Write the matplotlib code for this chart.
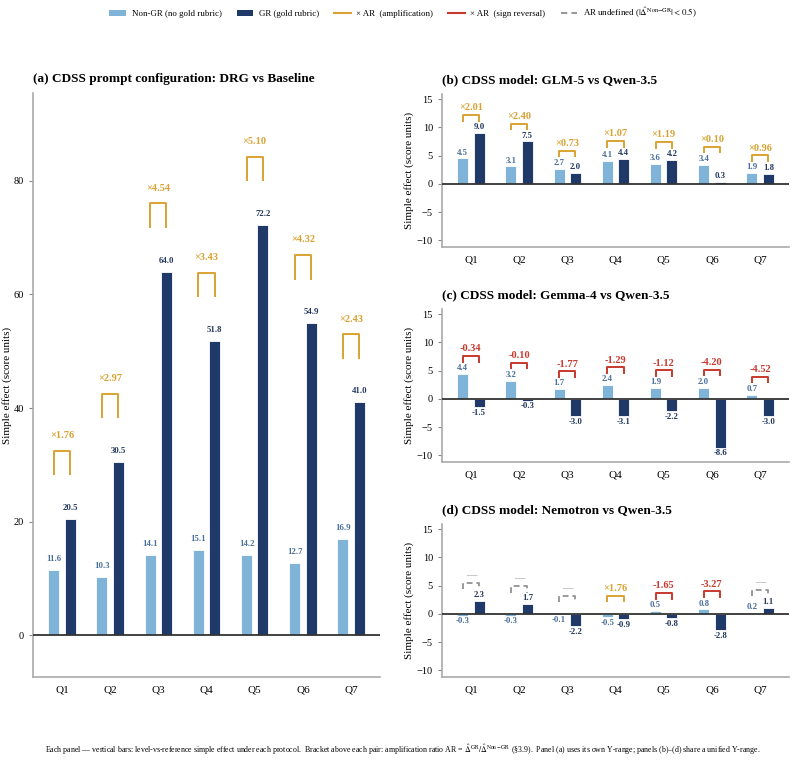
import matplotlib
matplotlib.use("Agg")
import numpy as np
import matplotlib.pyplot as plt
from matplotlib.patches import Patch
from matplotlib.lines import Line2D

plt.rcParams['font.family'] = ['Liberation Serif', 'DejaVu Serif']
plt.rcParams['mathtext.fontset'] = 'stix'

questions = ['Q1', 'Q2', 'Q3', 'Q4', 'Q5', 'Q6', 'Q7']

# panel (a): DRG vs Baseline
a_nongr = [11.6, 10.3, 14.1, 15.1, 14.2, 12.7, 16.9]
a_gr = [20.5, 30.5, 64.0, 51.8, 72.2, 54.9, 41.0]
a_ar = [1.76, 2.97, 4.54, 3.43, 5.10, 4.32, 2.43]

# panel (b): GLM-5 vs Qwen-3.5
b_nongr = [4.5, 3.1, 2.7, 4.1, 3.6, 3.4, 1.9]
b_gr = [9.0, 7.5, 2.0, 4.4, 4.2, 0.3, 1.8]
b_ar = [2.01, 2.40, 0.73, 1.07, 1.19, 0.10, 0.96]

# panel (c): Gemma-4 vs Qwen-3.5
c_nongr = [4.4, 3.2, 1.7, 2.4, 1.9, 2.0, 0.7]
c_gr = [-1.5, -0.3, -3.0, -3.1, -2.2, -8.6, -3.0]
c_ar = [-0.34, -0.10, -1.77, -1.29, -1.12, -4.20, -4.52]

# panel (d): Nemotron vs Qwen-3.5  (None = AR undefined)
d_nongr = [-0.3, -0.3, -0.1, -0.5, 0.5, 0.8, 0.2]
d_gr = [2.3, 1.7, -2.2, -0.9, -0.8, -2.8, 1.1]
d_ar = [None, None, None, 1.76, -1.65, -3.27, None]

C_LIGHT = '#7fb3d8'
C_DARK = '#1f3a68'
C_LIGHT_TXT = '#4a6f9a'
C_DARK_TXT = '#24385e'
C_AMP = '#d9a232'
C_REV = '#c8392e'
C_UND = '#9a9a9a'


def draw_panel(ax, nongr, gr, ar, ylim, title, yticks):
    x = np.arange(len(questions))
    off, w = 0.17, 0.23
    ax.bar(x - off, nongr, w, color=C_LIGHT, edgecolor='white', linewidth=0.6, zorder=2)
    ax.bar(x + off, gr, w, color=C_DARK, edgecolor='white', linewidth=0.6, zorder=2)
    ax.set_ylim(*ylim)
    ax.set_xlim(-0.6, 6.6)
    rng = ylim[1] - ylim[0]
    ax.axhline(0, color='#333333', lw=1.3, zorder=3)

    for xi, v, c in list(zip(x - off, nongr, [C_LIGHT_TXT] * 7)) + list(zip(x + off, gr, [C_DARK_TXT] * 7)):
        if v >= 0:
            ax.text(xi, v + 0.012 * rng, f'{v:.1f}', ha='center', va='bottom',
                    fontsize=6.3, fontweight='bold', color=c, zorder=4)
        else:
            ax.text(xi, v - 0.012 * rng, f'{v:.1f}', ha='center', va='top',
                    fontsize=6.3, fontweight='bold', color=c, zorder=4)

    for i in range(len(questions)):
        base = max(0, nongr[i], gr[i]) + 0.075 * rng
        top = base + 0.042 * rng
        r = ar[i]
        if r is None:
            col, ls, lab, fw = C_UND, (0, (3, 2)), '\u2014', 'normal'
        elif r >= 0:
            col, ls, lab, fw = C_AMP, '-', f'\u00d7{r:.2f}', 'bold'
        else:
            col, ls, lab, fw = C_REV, '-', f'{r:.2f}', 'bold'
        x0, x1 = x[i] - off, x[i] + off
        ax.plot([x0, x0, x1, x1], [base, top, top, base], color=col, lw=1.4,
                ls=ls, solid_capstyle='butt', zorder=4)
        ax.text(x[i], top + 0.018 * rng, lab, ha='center', va='bottom',
                fontsize=7.5, fontweight=fw, color=col, zorder=4)

    ax.set_xticks(x)
    ax.set_xticklabels(questions, fontsize=8)
    ax.set_yticks(yticks)
    ax.tick_params(axis='y', labelsize=7.5, length=3, color='#888888')
    ax.tick_params(axis='x', length=0, pad=6)
    for s in ['top', 'right']:
        ax.spines[s].set_visible(False)
    for s in ['left', 'bottom']:
        ax.spines[s].set_color('#aaaaaa')
        ax.spines[s].set_linewidth(1.2)
    ax.set_ylabel('Simple effect (score units)', fontsize=8, labelpad=2)
    ax.set_title(title, loc='left', fontsize=9.5, fontweight='bold', pad=8)


fig = plt.figure(figsize=(8.06, 7.77), dpi=100)
W, H = 806, 777


def box(l, r, t, b):
    return [l / W, 1 - b / H, (r - l) / W, (b - t) / H]


ax_a = fig.add_axes(box(33, 380, 93, 677))
ax_b = fig.add_axes(box(442, 789, 94, 247))
ax_c = fig.add_axes(box(442, 789, 309, 462))
ax_d = fig.add_axes(box(442, 789, 524, 677))

draw_panel(ax_a, a_nongr, a_gr, a_ar, (-7.3, 95.4),
           '(a) CDSS prompt configuration: DRG vs Baseline', [0, 20, 40, 60, 80])
shared = (-11.16, 15.9)
draw_panel(ax_b, b_nongr, b_gr, b_ar, shared,
           '(b) CDSS model: GLM-5 vs Qwen-3.5', [-10, -5, 0, 5, 10, 15])
draw_panel(ax_c, c_nongr, c_gr, c_ar, shared,
           '(c) CDSS model: Gemma-4 vs Qwen-3.5', [-10, -5, 0, 5, 10, 15])
draw_panel(ax_d, d_nongr, d_gr, d_ar, shared,
           '(d) CDSS model: Nemotron vs Qwen-3.5', [-10, -5, 0, 5, 10, 15])
ax_a.yaxis.labelpad = 1

handles = [
    Patch(facecolor=C_LIGHT, label='Non-GR (no gold rubric)'),
    Patch(facecolor=C_DARK, label='GR (gold rubric)'),
    Line2D([], [], color=C_AMP, lw=1.5, label='\u00d7 AR  (amplification)'),
    Line2D([], [], color=C_REV, lw=1.5, label='\u00d7 AR  (sign reversal)'),
    Line2D([], [], color=C_UND, lw=1.5, ls=(0, (3, 2)),
           label=r'AR undefined ($|\hat{\Delta}^{\mathrm{Non\!-\!GR}}| < 0.5$)'),
]
fig.legend(handles=handles, loc='center', bbox_to_anchor=(0.5, 1 - 13 / H), ncol=5,
           frameon=False, fontsize=6.4, handlelength=1.9, columnspacing=1.7,
           handletextpad=0.6)

fig.text(0.5, 1 - 750 / H,
         'Each panel \u2014 vertical bars: level-vs-reference simple effect under each protocol.  '
         r'Bracket above each pair: amplification ratio AR = $\hat{\Delta}^{\mathrm{GR}}/\hat{\Delta}^{\mathrm{Non-GR}}$'
         ' (\u00a73.9).  Panel (a) uses its own Y-range; panels (b)\u2013(d) share a unified Y-range.',
         ha='center', va='center', fontsize=5.7)

fig.savefig('out.png', dpi=100)
